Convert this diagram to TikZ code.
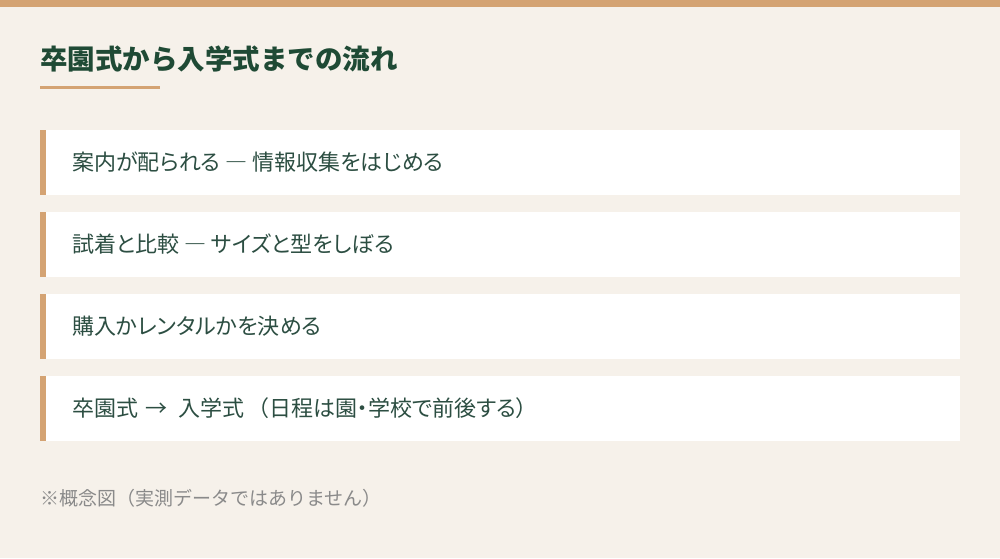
\documentclass[tikz,border=0pt]{standalone}
\usepackage{fontspec}
\setmainfont{Noto Sans CJK JP}
\newfontfamily\propfont{Noto Sans CJK JP}[RawFeature=+palt]
\definecolor{bgcream}{HTML}{F6F1EA}
\definecolor{accentbrown}{HTML}{D4A373}
\definecolor{titlegreen}{HTML}{1F4A35}
\definecolor{textgreen}{HTML}{2C4E42}
\definecolor{notegray}{HTML}{8A8A8A}

\begin{document}
\begin{tikzpicture}[x=1pt,y=-1pt,
    itemtext/.style={anchor=west, inner sep=0pt, text=textgreen, font=\propfont\fontsize{22}{26}\selectfont}]
\useasboundingbox (0,0) rectangle (1000,558);
\fill[bgcream] (0,0) rectangle (1000,558);
\fill[accentbrown] (0,0) rectangle (1000,7);
% title
\node[anchor=west, inner sep=0pt, text=titlegreen, font=\fontsize{27.5}{32}\selectfont\bfseries] (title) at (40,59) {卒園式から入学式までの流れ};
\fill[accentbrown] (40,86) rectangle (160,89);
% steps
\foreach \y/\name/\txt in {130/guide/案内が配られる ― 情報収集をはじめる,
                           212/fitting/試着と比較 ― サイズと型をしぼる,
                           294/decide/購入かレンタルかを決める,
                           376/ceremony/{卒園式\hspace{0.35em}→\hspace{0.5em}入学式\hspace{0.6em}（日程は園・学校で前後する）}}
{
    \fill[white] (40,\y) rectangle (960,\y+65);
    \fill[accentbrown] (40,\y) rectangle (46,\y+65);
    \node[itemtext] (\name) at (72,\y+32.5) {\txt};
}
\node[anchor=west, inner sep=0pt, text=notegray, font=\fontsize{19}{24}\selectfont] (note) at (40,498) {※概念図（実測データではありません）};
\end{tikzpicture}
\end{document}
